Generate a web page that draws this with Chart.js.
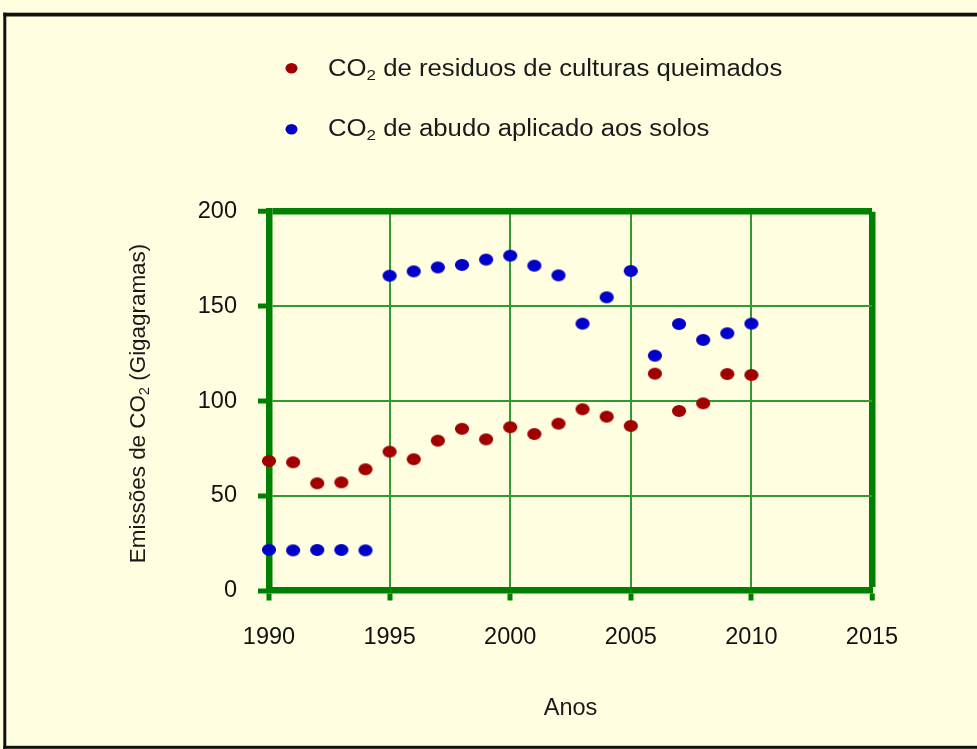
<!DOCTYPE html>
<html><head><meta charset="utf-8">
<script src="https://cdn.jsdelivr.net/npm/chart.js@4.4.0/dist/chart.umd.min.js"></script>
<style>
html,body{margin:0;padding:0;background:#FFFEE0;overflow:hidden;width:977px;height:749px}
#wrap{position:absolute;left:0;top:0;width:977px;height:749px}
</style></head><body>
<div id="wrap"><canvas id="c"></canvas></div>
<script>
const years = [1990,1991,1992,1993,1994,1995,1996,1997,1998,1999,2000,2001,2002,2003,2004,2005,2006,2007,2008,2009,2010];
const residuosQueimados = [68.4,67.7,56.6,57.1,64.0,73.3,69.3,79.1,85.4,79.8,86.2,82.6,88.1,95.7,91.8,86.9,114.5,94.8,98.8,114.3,113.8];
const abudoSolos = [21.5,21.2,21.4,21.4,21.2,166.2,168.5,170.6,171.9,174.7,176.8,171.5,166.4,140.9,154.8,168.7,124.0,140.7,132.3,135.8,140.9];
const xTickValues = [1990,1995,2000,2005,2010,2015];
const yTickValues = [0,50,100,150,200];
const seriesLabels = ['CO₂ de residuos de culturas queimados','CO₂ de abudo aplicado aos solos'];
const seriesColors = ['#A00000','#0000C8'];
const yTitleText = 'Emissões de CO₂ (Gigagramas)';
const xTitleText = 'Anos';

const FONT = "'Liberation Sans', Arial, Helvetica, sans-serif";
const BG = '#FFFEE0';
const FRAME = '#008000';
const GRID = '#339933';

function ellipseImg(color){
  const c = document.createElement('canvas');
  c.width = 16; c.height = 14;
  const g = c.getContext('2d');
  g.fillStyle = color;
  g.beginPath(); g.ellipse(8,7,7.1,6.0,0,0,Math.PI*2); g.fill();
  return c;
}

// draw text where '₂' is rendered as a true subscript
function drawRich(ctx, text, x, y, size){
  const parts = text.split('₂');
  const subSize = size*0.66;
  let cx = x;
  parts.forEach((p,i)=>{
    ctx.font = size + 'px ' + FONT;
    ctx.fillText(p, cx, y);
    cx += ctx.measureText(p).width;
    if (i < parts.length-1){
      ctx.font = subSize + 'px ' + FONT;
      ctx.fillText('2', cx, y + size*0.19);
      cx += ctx.measureText('2').width;
    }
  });
  return cx - x;
}
function richWidth(ctx, text, size){
  const parts = text.split('₂');
  let w = 0;
  parts.forEach((p,i)=>{
    ctx.font = size + 'px ' + FONT; w += ctx.measureText(p).width;
    if (i < parts.length-1){ ctx.font = (size*0.66) + 'px ' + FONT; w += ctx.measureText('2').width; }
  });
  return w;
}

const decor = {
  id: 'decor',
  beforeDraw(chart){
    const ctx = chart.ctx;
    ctx.save();
    ctx.fillStyle = BG;
    ctx.fillRect(0,0,chart.width,chart.height);
    ctx.fillStyle = '#111';
    ctx.fillRect(3.3, 12.7, chart.width, 3.8);   // top border
    ctx.fillRect(3.3, 12.7, 3, chart.height);   // left border
    ctx.fillRect(3.3, 745.8, chart.width, 3);   // bottom border
    ctx.restore();
  },
  afterDraw(chart){
    const ctx = chart.ctx;
    ctx.save();
    ctx.textBaseline = 'alphabetic';
    ctx.textAlign = 'left';
    const rows = [{dy:68.3, by:75.5},{dy:129.3, by:135.5}];
    chart.data.datasets.forEach((ds,i)=>{
      ctx.fillStyle = ds.backgroundColor;
      ctx.beginPath(); ctx.ellipse(291.5, rows[i].dy, 6, 5.3, 0, 0, Math.PI*2); ctx.fill();
      ctx.fillStyle = '#1a1a1a';
      ctx.save();
      ctx.translate(328, rows[i].by);
      ctx.scale(1.095, 1);
      drawRich(ctx, ds.label, 0, 0, 23.5);
      ctx.restore();
    });
    // y axis title (rotated)
    ctx.translate(137, 403.5);
    ctx.rotate(-Math.PI/2);
    ctx.fillStyle = '#1a1a1a';
    const w = richWidth(ctx, yTitleText, 22.4);
    drawRich(ctx, yTitleText, -w/2, 8, 22.4);
    ctx.restore();
  }
};

new Chart(document.getElementById('c'), {
  type: 'scatter',
  data: {
    datasets: [
      { label: seriesLabels[0], data: years.map((x,i)=>({x, y: residuosQueimados[i]})),
        backgroundColor: seriesColors[0], pointStyle: ellipseImg(seriesColors[0]), clip: false },
      { label: seriesLabels[1], data: years.map((x,i)=>({x, y: abudoSolos[i]})),
        backgroundColor: seriesColors[1], pointStyle: ellipseImg(seriesColors[1]), clip: false }
    ]
  },
  options: {
    responsive: true, maintainAspectRatio: false, animation: false,
    devicePixelRatio: 1,
    layout: { padding: { top: 211.7, right: 105, left: 0, bottom: 0 } },
    plugins: { legend: { display: false }, tooltip: { enabled: false } },
    scales: {
      x: {
        type: 'linear', min: 1990, max: 2015,
        afterBuildTicks(s){ s.ticks = xTickValues.map(v=>({value:v})); },
        afterFit(s){ s.height = 158.5; },
        ticks: { color: '#111', font: { family: FONT, size: 23.5 }, padding: 23, maxRotation: 0, autoSkip: false,
                 callback: v => String(v) },
        grid: { color: c => (c.tick && c.tick.value === 2015) ? FRAME : GRID,
                lineWidth: c => (c.tick && c.tick.value === 2015) ? 6.5 : 2,
                tickColor: FRAME, tickWidth: 5, tickLength: 10 },
        border: { display: true, color: FRAME, width: 6.5 },
        title: { display: true, text: xTitleText, color: '#1a1a1a', font: { family: FONT, size: 23.5 }, padding: { top: 0, bottom: 26 } }
      },
      y: {
        type: 'linear', min: 0, max: 200,
        afterBuildTicks(s){ s.ticks = yTickValues.map(v=>({value:v})); },
        afterFit(s){ s.width = 269; },
        ticks: { color: '#111', font: { family: FONT, size: 23.5 }, padding: 21, callback: v => String(v) },
        grid: { color: c => (c.tick && c.tick.value === 200) ? FRAME : GRID,
                lineWidth: c => (c.tick && c.tick.value === 200) ? 6.5 : 2,
                tickColor: FRAME, tickWidth: 5, tickLength: 11 },
        border: { display: true, color: FRAME, width: 6.5 }
      }
    }
  },
  plugins: [decor]
});
</script>
</body></html>
